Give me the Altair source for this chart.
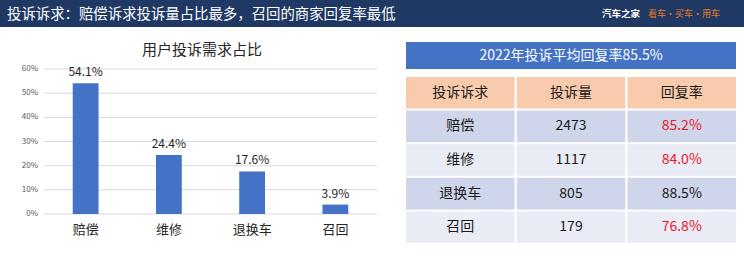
import altair as alt
import pandas as pd

# ---------------- data ----------------
categories = ["赔偿", "维修", "退换车", "召回"]
shares = [0.541, 0.244, 0.176, 0.039]
y_ticks = [0.0, 0.1, 0.2, 0.3, 0.4, 0.5, 0.6]
complaints = [2473, 1117, 805, 179]
reply_rates = [85.2, 84.0, 88.5, 76.8]
avg_rate = 85.5
table_columns = ["投诉诉求", "投诉量", "回复率"]
header_title = "投诉诉求：赔偿诉求投诉量占比最多，召回的商家回复率最低"
brand = "汽车之家"
brand_tag = "看车·买车·用车"
chart_title = "用户投诉需求占比"
table_title = f"2022年投诉平均回复率{avg_rate}%"

# ---------------- styles ----------------
FONT = "Noto Sans CJK SC"
NAVY = "#1f3864"
BLUE = "#4472c4"
PEACH = "#f8cbad"
DARK = "#cfd5ea"
LIGHT = "#e9ebf5"
RED = "#e8192c"
ORANGE = "#e97b25"

# ---------------- header band ----------------
header_rect = alt.Chart(pd.DataFrame({"k": [0]})).mark_rect(color=NAVY).encode(
    x=alt.value(0), x2=alt.value(744), y=alt.value(0), y2=alt.value(27)
)
header_text = alt.Chart(pd.DataFrame({"t": [header_title]})).mark_text(
    align="left", baseline="middle", font=FONT, fontSize=14.4, color="white"
).encode(x=alt.value(7), y=alt.value(15), text="t:N")
brand_text = alt.Chart(pd.DataFrame({"t": [brand]})).mark_text(
    align="left", baseline="middle", font=FONT, fontSize=9.5, fontWeight="bold", color="white"
).encode(x=alt.value(602), y=alt.value(14), text="t:N")
tag_text = alt.Chart(pd.DataFrame({"t": [brand_tag]})).mark_text(
    align="left", baseline="middle", font=FONT, fontSize=9, color=ORANGE
).encode(x=alt.value(648), y=alt.value(14), text="t:N")
header = alt.layer(header_rect, header_text, brand_text, tag_text)

# ---------------- bar chart ----------------
bar_df = pd.DataFrame({"cat": categories, "share": shares})
grid_df = pd.DataFrame({"share": y_ticks})
xs = alt.Scale(domain=categories, range=[44, 377], paddingInner=0.69, paddingOuter=0.345)
ys = alt.Scale(domain=[0, 0.6], range=[214, 69], nice=False, zero=True)

grid = alt.Chart(grid_df).mark_rule(color="#d9d9d9", strokeWidth=1).encode(
    y=alt.Y("share:Q", scale=ys, axis=None),
    x=alt.value(44), x2=alt.value(377),
)
tick_labels = alt.Chart(grid_df).mark_text(
    align="right", baseline="middle", font=FONT, fontSize=8, color="#595959"
).encode(
    y=alt.Y("share:Q", scale=ys, axis=None),
    x=alt.value(38),
    text=alt.Text("share:Q", format=".0%"),
)
bars = alt.Chart(bar_df).mark_bar(color=BLUE).encode(
    x=alt.X("cat:N", scale=xs, sort=categories,
            axis=alt.Axis(orient="bottom", offset=-50, title=None, domain=False, ticks=False,
                          labelAngle=0, labelPadding=9, labelFontSize=13, labelFont=FONT,
                          labelColor="#262626")),
    y=alt.Y("share:Q", scale=ys, axis=None),
)
labels = alt.Chart(bar_df).mark_text(
    baseline="bottom", dy=-4, font=FONT, fontSize=12, color="#262626"
).encode(
    x=alt.X("cat:N", scale=xs, sort=categories),
    y=alt.Y("share:Q", scale=ys),
    text=alt.Text("share:Q", format=".1%"),
)
title_mark = alt.Chart(pd.DataFrame({"t": [chart_title]})).mark_text(
    align="center", baseline="middle", font=FONT, fontSize=15, color="#262626"
).encode(x=alt.value(202), y=alt.value(50), text="t:N")
bar_chart = alt.layer(grid, tick_labels, bars, labels, title_mark)

# ---------------- table ----------------
row_keys = ["表头"] + categories
records = []
for c, col in enumerate(table_columns):
    records.append({"row": "表头", "ridx": 0, "col": col, "label": col, "rate": None})
for i, cat in enumerate(categories):
    vals = [cat, str(complaints[i]), f"{reply_rates[i]:.1f}%"]
    for c, col in enumerate(table_columns):
        records.append({"row": cat, "ridx": i + 1, "col": col, "label": vals[c],
                        "rate": reply_rates[i]})
tab_df = pd.DataFrame(records)

txs = alt.Scale(domain=table_columns, range=[406, 736], paddingInner=0.02, paddingOuter=0)
tys = alt.Scale(domain=row_keys, range=[77, 243], paddingInner=0.06, paddingOuter=0)

cells = alt.Chart(tab_df).transform_calculate(
    band="datum.ridx == 0 ? 'head' : (datum.ridx % 2 == 1 ? 'odd' : 'even')"
).mark_rect().encode(
    x=alt.X("col:N", scale=txs, axis=None, sort=table_columns),
    y=alt.Y("row:N", scale=tys, axis=None, sort=row_keys),
    color=alt.Color("band:N", scale=alt.Scale(domain=["head", "odd", "even"],
                                              range=[PEACH, DARK, LIGHT]), legend=None),
)
cell_text = alt.Chart(tab_df).mark_text(font=FONT, fontSize=14, baseline="middle").encode(
    x=alt.X("col:N", scale=txs, axis=None, sort=table_columns),
    y=alt.Y("row:N", scale=tys, axis=None, sort=row_keys),
    text="label:N",
    color=alt.condition(
        f"datum.col == '{table_columns[2]}' && datum.rate != null && datum.rate < {avg_rate}",
        alt.value(RED), alt.value("#1a1a1a")),
)
title_box = alt.Chart(pd.DataFrame({"k": [0]})).mark_rect(color=BLUE).encode(
    x=alt.value(406), x2=alt.value(736), y=alt.value(42), y2=alt.value(69)
)
title_box_text = alt.Chart(pd.DataFrame({"t": [table_title]})).mark_text(
    align="center", baseline="middle", font=FONT, fontSize=14, color="white"
).encode(x=alt.value(571), y=alt.value(56), text="t:N")
table = alt.layer(title_box, title_box_text, cells, cell_text)

chart = alt.layer(header, bar_chart, table).resolve_scale(
    x="independent", y="independent", color="independent"
).properties(
    width=744, height=264, padding=0, autosize="none", background="white"
).configure_view(stroke=None)

chart.save("out.html", embed_options={"renderer": "svg", "actions": False})
